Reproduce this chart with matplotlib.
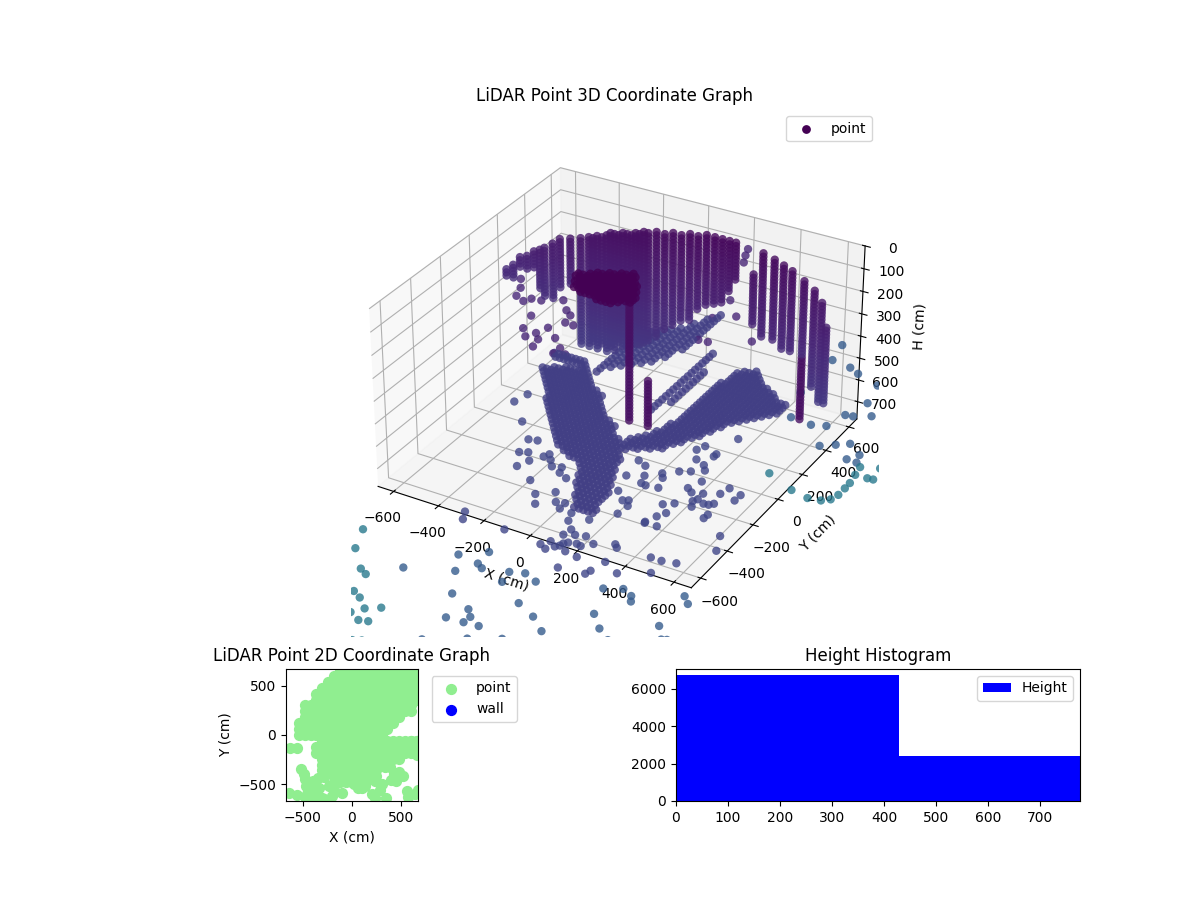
import numpy as np
import matplotlib
matplotlib.use("Agg")
import matplotlib.pyplot as plt

# ===============================
# LiDAR readings (cm)
# ===============================

# scan rows shared by the wall strips
scan_z = [0, 15, 30, 45, 60, 75, 90, 105, 120, 135, 150, 165, 180, 195, 210, 225, 240, 255, 270, 285, 300, 315, 330, 345,
          360, 375, 390, 405, 420, 435, 450, 465, 480, 495, 510, 525, 540, 555, 570, 585, 600, 615, 630, 645, 660, 675,
          690, 705, 720, 735, 750, 765, 780, 795, 810, 825, 840, 855]

strip_x = [-890, -857, -824, -790, -757, -729, -707, -668, -634, -585, -537, -499, -461, -417, -381, -343, -304, -267, -228, -191, -154, -117,
           -80, -42, -6, 31, 67, 100, 131, 159, 238, 278, 327, 367, 404, 456, 501, 534, 556, 456, -141, -57,
           -480, -439, -399, -362, -323, -285, -248]
strip_y = [600, 600, 600, 600, 600, 600, 600, 600, 600, 600, 600, 600, 600, 600, 600, 600, 600, 600, 600, 600, 600, 600,
           600, 600, 600, 600, 600, 600, 600, 600, 600, 600, 600, 600, 600, 600, 600, 600, 600, 600, 300, 300,
           600, 600, 600, 600, 600, 600, 600]
strip_top = [486, 451, 416, 391, 371, 355, 342, 307, 283, 269, 251, 234, 220, 203, 186, 176, 166, 156, 144, 134, 125, 114,
             109, 98, 92, 82, 82, 82, 84, 90, 199, 100, 115, 123, 141, 175, 206, 249, 348, 521, 276, 616,
             227, 211, 195, 181, 171, 161, 150]
strip_bottom = [537, 537, 477, 477, 457, 551, 579, 583, 523, 484, 750, 750, 750, 750, 748, 712, 700, 689, 653, 617, 582, 546,
                521, 508, 439, 419, 399, 379, 327, 269, 441, 487, 487, 514, 512, 511, 652, 714, 716, 819, 847, 850,
                720, 720, 720, 700, 690, 680, 660]
# darkest shade a strip reaches
strip_cap = [800, 800, 800, 800, 800, 800, 800, 800, 800, 800, 800, 800, 800, 800, 800, 800, 800, 800, 800, 800, 800, 800,
             800, 800, 800, 800, 800, 800, 800, 800, 800, 800, 800, 800, 800, 800, 800, 800, 800, 180, 180, 180,
             800, 800, 800, 800, 800, 800, 800]

# grid the ground and ceiling returns fall on
grid_x = [-640, -620, -600, -580, -560, -540, -520, -500, -480, -460, -440, -420, -400, -380, -360, -340, -320, -300,
          -280, -260, -240, -220, -200, -180, -160, -140, -120, -100, -80, -60, -40, -20, 0, 20, 40, 60, 80, 100, 120,
          140, 160, 180, 200, 220, 240, 260, 280, 300, 320, 340, 360, 380, 400]

# dark patch close to the ceiling
blob_z = 50
blob_row_y = [120, 100, 80, 60, 40, 20, 0, -20, -40, -60, -80, -100, -120]
blob_left = [-30, -70, -105, -140, -170, -200, -200, -195, -185, -175, -160, -130, -40]
blob_right = [-15, 0, 15, 27, 40, 52, 66, 76, 82, 88, 88, 58, 20]

# ground returns, all read at floor height
floor_z = 780
cluster_row_y = [525, 500, 475, 450, 425, 400, 375, 350, 325, 300, 275, 250, 225, 200, 175, 150, 125, 100, 75, 50, 25, 0,
                 -25, -50, -75, -100, -125, -150, -175, -200, -225, -250, -275, -300, -325, -350, -375, -400, -425]
cluster_left = [-620, -610, -475, -520, -565, -600, -584, -569, -552, -532, -513, -496, -479, -463, -448, -432, -413, -394, -374,
                -355, -338, -319, -298, -275, -251, -215, -170, -114, -86, -75, -62, -52, -40, -28, -18, -3, 8, 22, 39]
cluster_right = [-480, -460, -436, -406, -382, -363, -343, -307, -278, -262, -247, -231, -215, -184, -145, -118, -101, -81, -59,
                 -38, -19, -4, 10, 24, 32, 38, 44, 53, 63, 74, 85, 97, 103, 106, 109, 112, 116, 122, 125]

fan_row_y = [800, 775, 750, 725, 700, 675, 650, 625, 600, 575, 550, 525, 500, 475, 450, 425, 400, 375, 350, 325, 300, 275,
             250, 225, 200, 175, 150, 125, 100, 75, 50, 25]
fan_left = [154, 110, 88, 87, 85, 81, 76, 71, 66, 66, 68, 69, 70, 72, 74, 74, 73, 73, 71, 68, 66, 60,
            53, 46, 38, 22, 6, -10, -25, -33, -24, -15]
fan_right = [171, 190, 210, 237, 270, 300, 325, 399, 397, 395, 393, 370, 348, 326, 304, 282, 260, 253, 245, 237, 228, 214,
             202, 189, 177, 164, 152, 139, 125, 85, 55, 0]

# streaks running from the wall foot towards the sensor
sweep_grid_y = [330, 360, 390, 420, 450, 480, 510, 540, 570, 600, 630, 660, 690, 720, 750, 780, 810, 840, 870, 900, 930,
                960, 990, 1020, 1050, 1080, 1110, 1140, 1170]
sweep_x = [-395, -365, -335, -305, -275, -245, -215, -185, -60, -20]
sweep_near = [480, 520, 560, 600, 620, 660, 720, 800, 330, 400]
sweep_far = [850, 880, 900, 950, 980, 1020, 1100, 1160, 840, 700]

# single returns, split by how far away they are
upper_range = 450
upper_x = [-1072, -1031, -1009, -960, -941, -897, -865, -838, -794, -771, -736, -723, -751, -681, -620, -576, -622,
           -818, -762, -725, -712, -671, -321, -363, -345, -212, -204, -124, 30, -124, -166]
upper_y = [996, 928, 859, 835, 869, 876, 743, 636, 582, 628, 587, 526, 690, 631, 569, 536, 519,
           924, 856, 826, 763, 759, 1601, 1720, 1662, 1274, 1102, 1162, 1008, 915, 911]

near_range = 870
near_x = [-294, -273, -104, -132, -97, -73, -37, -1, 61, 92, 83, 114, 127, 101, 131, 163, 143, 218, 174, 194, 178, 227,
          297, 313, 69, 108, 139, 52, 202, 172, 192, 132, 194, 299, 306, 396, 323, 451, 495, 549, 500, 635, 601,
          319, 369, 336, 355, 315, 350, 416, 492, 494, 444, 478, 368, 410, -557, -541, -450, -359, -324, -341, -310,
          -275, -295, -199, -243, -232, -207, -179, -143, -130, -89, -3, 208, 173, 195, 158, 126, 85, 98, 125,
          208, 225, 245, 257, 295, 342, 317, 478, 536, 466, 534, 401, 464, 411, 365, 316, 338, 272, 319, 320, 255, 239, 340]
near_y = [-653, -700, -682, -420, -478, -371, -429, -460, -699, -716, -664, -686, -672, -604, -654, -694, -640, -705, -631, -637, -572, -602,
          -564, -581, -515, -560, -584, -465, -383, -295, -284, -471, -797, -782, -756, -723, -681, -574, -574, -561, -660, -418, -326,
          -387, -385, -327, -290, -244, -217, -205, -251, -223, -165, -146, -119, -105, 115, 189, 1, -100, -90, -197, -181,
          -231, -287, -347, -178, -153, -186, -223, -210, -247, -268, -419, -319, -156, -162, -105, -42, -21, -138, -246,
          -57, -84, -153, -13, 9, -99, -380, -23, -44, -74, -88, -170, -162, -149, -33, 73, 41, 95, 147, 166, 196, 157, 306]

mid_range = 1200
mid_x = [-286, -160, -73, -68, -40, -113, 58, 112, 69, 172, -45, 57, 88, 16, 85, 143, 190, 277, 348, 149, 254, 258, 108,
         16, 58, 453, 514, 574, 528, 687, 686, 732, 750, 800, 792, 402, 465, 511, 527, 675, 708,
         634, 729, 684, 535, 591, 810, 767, 796, 1026, 881, 816, 363, 472, 383, 521, 629, 694, 654, 711, 649, 618, 442]
mid_y = [-1074, -905, -836, -919, -937, -999, -908, -887, -974, -913, -1124, -1177, -1213, -1258, -1252, -1245, -1057, -1102, -1162, -1328, -1269, -1309, -1413,
         -1410, -1474, -981, -1048, -1093, -1138, -1176, -931, -998, -990, -993, -1079, -830, -797, -821, -851, -728, -764,
         418, 490, 456, 541, 563, 379, 382, 434, 245, 577, 711, 1166, 1017, 1036, 988, 943, 901, 799, 717, 680, 674, 553]

far_range = 1700
far_x = [-553, -506, -414, -379, -355, -314, -261, -291, -213, -240, -206, -190, -160, -132, -156,
         388, 812, 761, 840, 851, 852, 852, 844, 836, 684, 558, 906, 894, 917, 931]
far_y = [-940, -1057, -1156, -1176, -1285, -1308, -1355, -1398, -1322, -1424, -1413, -1534, -1519, -1567, -1600,
         743, 73, 63, 98, 140, 193, 236, 298, 357, 83, 146, 386, 299, 302, 438]

# top-down map: rows of returns on a shared x grid
map_grid_x = [-540, -480, -420, -360, -300, -240, -180, -120, -60, 0, 60, 120, 180, 240, 300, 360, 420, 480, 540, 600, 660]
map_row_y = [660, 600, 540, 480, 420, 360, 300, 240, 180, 120, 60, 0, -60, -120, -180, -240, -300, -360, -420, -480]
map_left = [-170, -230, -290, -345, -400, -410, -480, -510, -530, -545, -545, -540, -340, -360, -360, -330, -330, -300, -220, -180]
map_right = [670, 670, 670, 670, 670, 670, 640, 600, 520, 470, 410, 310, 670, 670, 670, 500, 300, 240, 240, 130]
map_extra_x = [-630, -560, -520, -490, -480, -470, -400, -340, -280, -400, -350, -330, -460, -560, -640, -470, -390,
               -300, -230, -180, -200, -100, -280, 100, 200, 280, 350, 230, 300, 400, 450, 430, 480, 520, 560, 570,
               640, 670, 130, 60, 20, 150, 230, 340, 390, -90, 10, 660, 660, 600, 660]
map_extra_y = [-130, -130, -350, -400, -450, -520, -470, -440, -430, -560, -560, -540, -600, -610, -590, -650, -630,
               -640, -520, -560, -620, -590, -650, -540, -600, -560, -640, -640, -500, -460, -470, -400, -380, -420, -570, -630,
               -600, -560, -520, -540, -500, -460, -470, -330, -330, -470, -480, -100, -200, -60, -60]

# height histogram
bin_left = [0, 429]
bin_counts = [6768, 2430]
bin_width = 429


# ===============================
# Assemble points
# ===============================

def pick_rows(row_y, left, right, grid):
    out_x, out_y = [], []
    for y, lo, hi in zip(row_y, left, right):
        for x in grid:
            if lo <= x <= hi:
                out_x.append(x)
                out_y.append(y)
    return out_x, out_y


wall_x, wall_y, wall_z, wall_shade = [], [], [], []
for sx, sy, top, bottom, cap in zip(strip_x, strip_y, strip_top, strip_bottom, strip_cap):
    for z in scan_z:
        if top <= z <= bottom:
            wall_x.append(sx)
            wall_y.append(sy)
            wall_z.append(z)
            wall_shade.append(min(z, cap))

blob_x, blob_y = pick_rows(blob_row_y, blob_left, blob_right, grid_x)
cluster_x, cluster_y = pick_rows(cluster_row_y, cluster_left, cluster_right, grid_x)
fan_x, fan_y = pick_rows(fan_row_y, fan_left, fan_right, grid_x)
# sweeps are x-constant, so the same helper works with the axes swapped
sweep_pts_y, sweep_pts_x = pick_rows(sweep_x, sweep_near, sweep_far, sweep_grid_y)

floor_x = cluster_x + fan_x + sweep_pts_x
floor_y = cluster_y + fan_y + sweep_pts_y
single_x = upper_x + near_x + mid_x + far_x
single_y = upper_y + near_y + mid_y + far_y
single_range = ([upper_range] * len(upper_x) + [near_range] * len(near_x)
                + [mid_range] * len(mid_x) + [far_range] * len(far_x))

xs = np.array(wall_x + blob_x + floor_x + single_x)
ys = np.array(wall_y + blob_y + floor_y + single_y)
zs = np.array(wall_z + [blob_z] * len(blob_x) + [floor_z] * len(floor_x) + [floor_z] * len(single_x))
shade = np.array(wall_shade + [0] * len(blob_x) + [floor_z] * len(floor_x) + single_range)

map_x, map_y = pick_rows(map_row_y, map_left, map_right, map_grid_x)
map_x += map_extra_x
map_y += map_extra_y

# ===============================
# Plot
# ===============================

fig = plt.figure(figsize=(12, 9), dpi=100)

ax3d = fig.add_axes([0.125, 0.2925, 0.775, 0.586], projection="3d")
ax3d.scatter(xs, ys, zs, c=shade, cmap="viridis", vmin=0, vmax=4200, s=36, alpha=0.8,
             linewidths=0, depthshade=False)
ax3d.scatter([], [], [], color="#440154", s=28, label="point")
ax3d.set_box_aspect((4, 4, 2.27))
ax3d.set_xlim(-670, 670)
ax3d.set_ylim(-670, 670)
ax3d.set_zlim(780, 0)
ax3d.set_title("LiDAR Point 3D Coordinate Graph")
ax3d.set_xlabel("X (cm)")
ax3d.set_ylabel("Y (cm)")
ax3d.set_zlabel("H (cm)")
ax3d.legend(loc="upper right")

ax2d = fig.add_axes([0.2383, 0.11, 0.11, 0.1467])
ax2d.scatter(map_x, map_y, color="lightgreen", s=50, label="point")
ax2d.scatter([], [], color="blue", s=50, label="wall")
ax2d.set_xlim(-670, 670)
ax2d.set_ylim(-670, 670)
ax2d.set_title("LiDAR Point 2D Coordinate Graph")
ax2d.set_xlabel("X (cm)")
ax2d.set_ylabel("Y (cm)")
ax2d.legend(loc="upper left", bbox_to_anchor=(1.05, 1))

ax_hist = fig.add_axes([0.5633, 0.11, 0.3367, 0.1467])
ax_hist.bar(bin_left, bin_counts, width=bin_width, align="edge", color="blue", label="Height")
ax_hist.set_xlim(0, 776)
ax_hist.set_ylim(0, 7071)
ax_hist.set_title("Height Histogram")
ax_hist.legend(loc="upper right")

fig.savefig("out.png", dpi=100)
